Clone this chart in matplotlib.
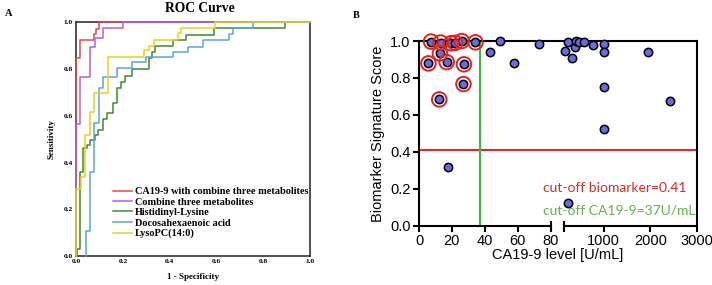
import numpy as np
import matplotlib
matplotlib.use("Agg")
import matplotlib.pyplot as plt

# ---- panel A: ROC curves (risers: x where curve steps up, level after step)
red_fpr = [0.0, 0.016, 0.076, 0.084, 0.099]
red_tpr = [0.848, 0.924, 0.949, 0.971, 1.0]
purple_fpr = [0.0, 0.017, 0.059, 0.08, 0.116, 0.199]
purple_tpr = [0.565, 0.767, 0.896, 0.931, 0.974, 1.0]
green_fpr = [0.005, 0.017, 0.03, 0.045, 0.059, 0.08, 0.094, 0.116, 0.13, 0.159,
             0.173, 0.19, 0.21, 0.24, 0.311, 0.323, 0.337, 0.416, 0.47, 0.59, 0.894]
green_tpr = [0.03, 0.36, 0.46, 0.475, 0.495, 0.518, 0.54, 0.585, 0.61, 0.653,
             0.72, 0.745, 0.77, 0.80, 0.846, 0.874, 0.9, 0.925, 0.946, 0.974, 1.0]
blue_fpr = [0.04, 0.059, 0.077, 0.097, 0.116, 0.173, 0.237, 0.30, 0.416, 0.48,
            0.543, 0.654, 0.673, 0.759]
blue_tpr = [0.105, 0.36, 0.568, 0.72, 0.768, 0.803, 0.831, 0.85, 0.874, 0.896,
            0.924, 0.948, 0.974, 1.0]
yellow_fpr = [0.0, 0.019, 0.037, 0.059, 0.077, 0.137, 0.29, 0.31, 0.334, 0.437,
              0.449, 0.594]
yellow_tpr = [0.285, 0.339, 0.518, 0.617, 0.696, 0.85, 0.88, 0.9, 0.924, 0.955,
              0.974, 1.0]

roc_labels = ["CA19-9 with combine three metabolites", "Combine three metabolites",
              "Histidinyl-Lysine", "Docosahexaenoic acid", "LysoPC(14:0)"]
roc_colors = ["#e8474a", "#b05fe0", "#3e8a2e", "#5aa6dc", "#e8d21e"]

# ---- panel B: scatter
circled_ca199 = [7.3, 13.1, 12.7, 5.7, 16.8, 19.5, 22.0, 25.9, 34.3, 27.3, 27.0, 12.3]
circled_score = [0.997, 0.992, 0.933, 0.879, 0.886, 0.988, 0.990, 1.0, 0.993, 0.874, 0.767, 0.684]
other_ca199 = [17.4, 43.2, 49.1, 57.6, 72.9, 165, 236, 322, 380, 402, 473, 580, 774,
               1000, 1000, 1000, 1000, 1950, 2430, 223]
other_score = [0.318, 0.940, 1.0, 0.879, 0.985, 0.944, 0.993, 0.906, 0.969, 1.0, 0.996,
               0.993, 0.978, 0.982, 0.942, 0.753, 0.524, 0.942, 0.675, 0.125]
cutoff_score = 0.41
cutoff_ca199 = 37

fig = plt.figure(figsize=(7.12, 2.85), dpi=100)
serif = "Liberation Serif"
sans = "Liberation Sans"

# ================= panel A =================
axA = fig.add_axes([0.1072, 0.1018, 0.3278, 0.82])
for fpr, tpr, c, lab in zip([red_fpr, purple_fpr, green_fpr, blue_fpr, yellow_fpr],
                            [red_tpr, purple_tpr, green_tpr, blue_tpr, yellow_tpr],
                            roc_colors, roc_labels):
    x = list(fpr) + [1.0]
    y = [0.0] + list(tpr)
    axA.plot(x, y, drawstyle="steps-pre", color=c, lw=1.1, label=lab, clip_on=False, zorder=3)
axA.set_xlim(0, 1)
axA.set_ylim(0, 1)
for s in axA.spines.values():
    s.set_color("#333333")
    s.set_linewidth(1.2)
axA.set_xticks(np.arange(0, 1.01, 0.2))
axA.set_yticks(np.arange(0, 1.01, 0.2))
axA.tick_params(length=0, pad=2.5, labelsize=5.3)
for t in axA.get_xticklabels() + axA.get_yticklabels():
    t.set_fontfamily(serif)
    t.set_fontweight("bold")
axA.set_xlabel("1 - Specificity", fontfamily=serif, fontweight="bold", fontsize=6.5, labelpad=6)
axA.set_ylabel("Sensitivity", fontfamily=serif, fontweight="bold", fontsize=6.5, labelpad=6)
leg = axA.legend(loc="upper left", bbox_to_anchor=(0.155, 0.295), frameon=False,
                 prop={"family": serif, "weight": "bold", "size": 7.4},
                 handlelength=1.9, handletextpad=0.25, labelspacing=0.12, borderpad=0,
                 borderaxespad=0)
fig.text(199.5 / 712, 1 - 9 / 285, "ROC Curve", ha="center", va="center",
         fontfamily=serif, fontweight="bold", fontsize=9.8)
fig.text(5 / 712, 1 - 14 / 285, "A", ha="left", va="center",
         fontfamily=serif, fontweight="bold", fontsize=7.5)

# ================= panel B =================
S1 = 131.7 / 80
SG = 13.6 / 70
S2 = 132.4 / 2850


def fwd(x):
    x = np.asarray(x, dtype=float)
    return np.where(x <= 80, x * S1,
                    np.where(x <= 150, 80 * S1 + (x - 80) * SG,
                             80 * S1 + 70 * SG + (x - 150) * S2))


def inv(p):
    p = np.asarray(p, dtype=float)
    a = 80 * S1
    b = a + 70 * SG
    return np.where(p <= a, p / S1,
                    np.where(p <= b, 80 + (p - a) / SG, 150 + (p - b) / S2))


axB = fig.add_axes([0.5885, 0.208, 0.39, 0.648])
axB.set_xscale("function", functions=(fwd, inv))
axB.set_xlim(0, 3000)
axB.set_ylim(0, 1)

axB.axhline(cutoff_score, color="#e02828", lw=1.5, zorder=2)
axB.axvline(cutoff_ca199, color="#3cb83c", lw=1.5, zorder=2)
axB.scatter(other_ca199, other_score, s=36, color="#6b6bdf", edgecolor="black",
            linewidth=1.1, zorder=4, clip_on=False)
axB.scatter(circled_ca199, circled_score, s=36, color="#6b6bdf", edgecolor="black",
            linewidth=1.1, zorder=4, clip_on=False)
axB.scatter(circled_ca199, circled_score, s=110, facecolor="none", edgecolor="#e62020",
            linewidth=1.4, zorder=5, clip_on=False)

for s in ["top", "left", "right"]:
    axB.spines[s].set_linewidth(1.5)
axB.spines["bottom"].set_visible(False)
axB.plot([0, 80], [0, 0], color="black", lw=1.5, clip_on=False, zorder=3)
axB.plot([150, 3000], [0, 0], color="black", lw=1.5, clip_on=False, zorder=3)
axB.plot([80, 150], [0, 0], ls="none", marker="|", ms=7, mew=1.5, color="black", clip_on=False)

axB.set_xticks([0, 20, 40, 60, 80, 150, 1000, 2000, 3000])
axB.set_xticklabels(["0", "20", "40", "60", "80", "", "1000", "2000", "3000"])
axB.set_yticks(np.arange(0, 1.01, 0.2))
axB.set_yticklabels([f"{v:.1f}" for v in np.arange(0, 1.01, 0.2)])
axB.tick_params(direction="out", length=4, width=1.5, labelsize=10.5, pad=2)
for t in axB.get_xticklabels() + axB.get_yticklabels():
    t.set_fontfamily(sans)
axB.set_xlabel("CA19-9 level [U/mL]", fontfamily=sans, fontsize=10.5, labelpad=0)
axB.set_ylabel("Biomarker Signature Score", fontfamily=sans, fontsize=10.5, labelpad=4)

axB.text(0.4465, 0.204, "cut-off biomarker=0.41", transform=axB.transAxes, color="#e02828",
         fontfamily="Lato", fontsize=10, va="center", ha="left")
axB.text(0.4465, 0.085, "cut-off CA19-9=37U/mL", transform=axB.transAxes, color="#66b050",
         fontfamily="Lato", fontsize=10, va="center", ha="left")

fig.text(353 / 712, 1 - 16 / 285, "B", ha="left", va="center",
         fontfamily=serif, fontweight="bold", fontsize=7.5)

fig.savefig("out.png", dpi=100)
